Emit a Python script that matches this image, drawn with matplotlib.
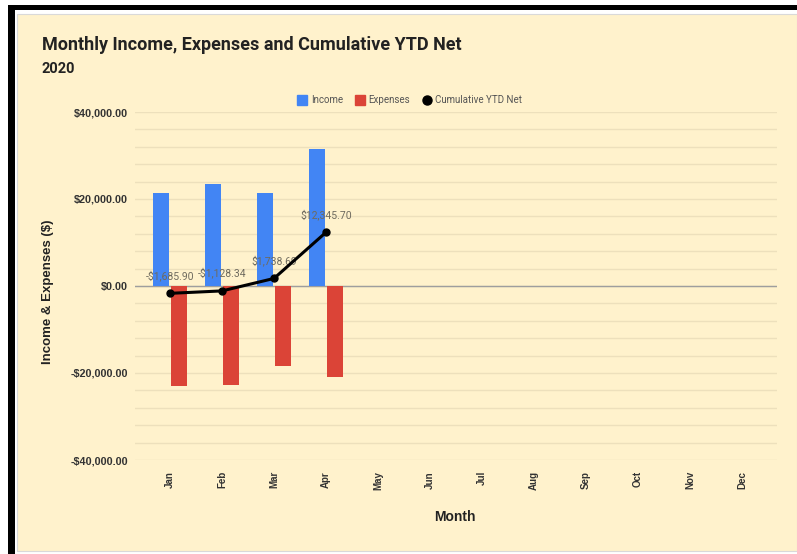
import numpy as np
import matplotlib as mpl
mpl.use("Agg")
import matplotlib.pyplot as plt
from matplotlib.patches import Rectangle
from matplotlib.lines import Line2D
from matplotlib.ticker import MultipleLocator, FuncFormatter

months = ["Jan", "Feb", "Mar", "Apr", "May", "Jun", "Jul", "Aug", "Sep", "Oct", "Nov", "Dec"]
income = [21400, 23400, 21300, 31550]
expenses = [-23086, -22842, -18433, -20943]
ytd_net = [-1685.90, -1128.34, 1738.69, 12345.70]
net_labels = ["-$1,685.90", "-$1,128.34", "$1,738.69", "$12,345.70"]

cream = "#FFF2CC"
grid_col = "#EDE0BC"
blue = "#4285F4"
red = "#DB4437"
axis_font = ["Liberation Sans Narrow", "Liberation Sans", "DejaVu Sans"]
title_font = ["Roboto", "DejaVu Sans"]

W, H = 797, 554
fig = plt.figure(figsize=(W / 100, H / 100), dpi=100)
fig.patch.set_facecolor("white")

def fx(px):
    return px / W

def fy(py):
    return 1 - py / H

# chart background and the black screenshot frame
fig.patches.append(Rectangle((fx(17), fy(551)), fx(780), 537 / H, transform=fig.transFigure,
                             facecolor=cream, edgecolor="#D9D9D9", lw=0.8, zorder=-2))
fig.patches.append(Rectangle((fx(8), fy(10)), fx(789), 5 / H, transform=fig.transFigure,
                             facecolor="black", edgecolor="none", zorder=-1))
fig.patches.append(Rectangle((fx(8), 0), fx(7), fy(5), transform=fig.transFigure,
                             facecolor="black", edgecolor="none", zorder=-1))

ax = fig.add_axes([fx(135), fy(460), fx(642), 348 / H])
ax.set_zorder(2)
ax.set_facecolor(cream)
for s in ax.spines.values():
    s.set_visible(False)

x = np.arange(len(income))
bw = 0.31
ax.bar(x - 0.165, income, bw, color=blue, label="Income", zorder=3)
ax.bar(x + 0.165, expenses, bw, color=red, label="Expenses", zorder=3)
ax.plot(x, ytd_net, color="black", lw=2.2, marker="o", ms=5, label="Cumulative YTD Net", zorder=4)
for xi, yi, lab in zip(x, ytd_net, net_labels):
    ax.annotate(lab, (xi, yi), xytext=(0, 13), textcoords="offset points", ha="center", va="center",
                fontsize=7.5, color="#6E6A5E", family=title_font, zorder=3.5)

ax.axhline(0, color="#9E9E9E", lw=1, zorder=2)
ax.set_xlim(-0.673, 11.673)
ax.set_ylim(-40000, 40000)
ax.yaxis.set_major_locator(MultipleLocator(20000))
ax.yaxis.set_minor_locator(MultipleLocator(4000))
ax.yaxis.set_major_formatter(FuncFormatter(lambda v, p: ("-$" if v < 0 else "$") + f"{abs(v):,.2f}"))
ax.grid(True, axis="y", which="both", color=grid_col, lw=1, zorder=0)
ax.tick_params(axis="y", which="both", length=0, pad=5)
ax.tick_params(axis="y", labelsize=7.8, labelcolor="#333333")
ax.set_xticks(range(12))
ax.set_xticklabels(months, rotation=90, fontsize=7, fontweight="bold", color="#333333", family=axis_font)
ax.tick_params(axis="x", length=0, pad=8)
for t in ax.get_yticklabels():
    t.set_fontweight("bold")
    t.set_family(axis_font)

fig.text(fx(48), fy(292), "Income & Expenses ($)", rotation=90, ha="center", va="center",
         fontsize=9.5, fontweight="bold", family=axis_font, color="#222222")
fig.text(fx(455), fy(517), "Month", ha="center", va="center", fontsize=10, fontweight="bold",
         family=axis_font, color="#222222")

fig.text(fx(42), fy(45), "Monthly Income, Expenses and Cumulative YTD Net", ha="left", va="center",
         fontsize=13, fontweight="bold", family=title_font, color="#222222")
fig.text(fx(42), fy(69), "2020", ha="left", va="center", fontsize=10.5, fontweight="bold",
         family=title_font, color="#222222")

handles = [Line2D([], [], marker="s", ls="none", color=blue, ms=6.5),
           Line2D([], [], marker="s", ls="none", color=red, ms=6.5),
           Line2D([], [], marker="o", ls="none", color="black", ms=6.5)]
fig.legend(handles, ["Income", "Expenses", "Cumulative YTD Net"], loc="center",
           bbox_to_anchor=(fx(410), fy(100)), ncol=3, frameon=False, handlelength=1,
           handletextpad=0.4, columnspacing=1.2, prop={"family": title_font, "size": 7},
           labelcolor="#555555")

fig.savefig("out.png", dpi=100, facecolor=fig.get_facecolor())
